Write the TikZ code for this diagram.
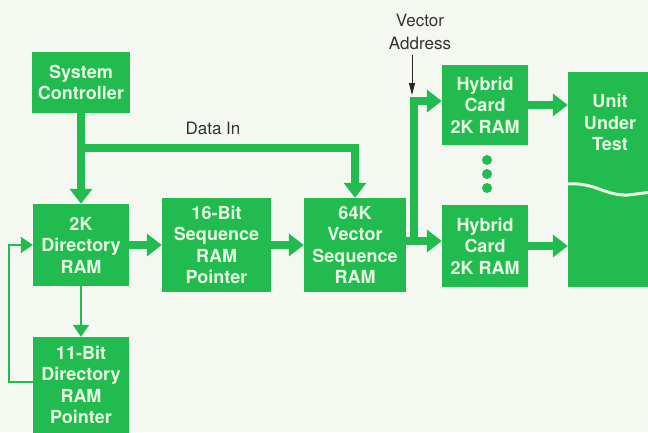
\documentclass[tikz,border=0pt]{standalone}
\usepackage{fontspec}
\setmainfont{TeX Gyre Heros}
\usetikzlibrary{arrows.meta,positioning}
\definecolor{hpgreen}{RGB}{34,187,80}
\definecolor{hppale}{RGB}{232,250,226}
\definecolor{hpbg}{RGB}{244,248,240}
\tikzset{blk/.style={fill=hpgreen,text=hppale,font=\bfseries\fontsize{18}{21.5}\selectfont,align=center,inner sep=0pt},bus/.style={draw=hpgreen,line width=8pt,-{Triangle[width=22pt,length=15pt]}},wire/.style={draw=hpgreen,line width=2pt,-{Triangle[width=16pt,length=12pt]}},lbl/.style={font=\fontsize{17}{23}\selectfont,align=center,text=black!80,inner sep=0pt}}
\begin{document}
\begin{tikzpicture}[x=1pt,y=-1pt]
\fill[hpbg](0,0)rectangle(648,432);\useasboundingbox(0,0)rectangle(648,432);
\node[blk,minimum width=98pt,minimum height=61pt](sc)at(81,82.5){System\\Controller};
\node[blk,minimum width=96pt,minimum height=82pt](dir)at(81,245){2K\\Directory\\RAM};
\node[blk,minimum width=96pt,minimum height=96pt](ptr)at(81,385){11-Bit\\Directory\\RAM\\Pointer};
\node[blk,minimum width=109pt,minimum height=94pt](seq)at(216.5,245){16-Bit\\Sequence\\RAM\\Pointer};
\node[blk,minimum width=102pt,minimum height=94pt](vec)at(355,245){64K\\Vector\\Sequence\\RAM};
\node[blk,minimum width=86pt,minimum height=80pt](hyb1)at(485,105){Hybrid\\Card\\2K RAM};
\node[blk,minimum width=86pt,minimum height=82pt](hyb2)at(485,246){Hybrid\\Card\\2K RAM};
\node[blk,minimum width=92pt,minimum height=215pt](uut)at(614,179.5){};
\node[blk,fill=none,anchor=north](uutt)at(610,94){Unit\\Under\\Test};
\draw[hppale,line width=3pt](uut.west|-0,184)..controls(595,182)and(605,196)..(628,195)..controls(640,194)..(652,192);
\foreach\y in{160,174,188}\fill[hpgreen](487,\y)circle(5pt);
\node[lbl](din)at(213,128){Data In};
\node[lbl](va)at(420,31.5){Vector\\Address};
\coordinate(dj)at(82,148);\coordinate(bus1)at(414,101);\coordinate(bus2)at(414,241);\coordinate(vae)at(412,95);\coordinate(fb)at(9,382);
\draw[bus](sc.south)--(dir.north);
\draw[bus](dj)-|(vec.north);
\draw[bus](dir)--(seq);
\draw[bus](seq)--(vec);
\draw[bus](vec.east|-bus2)--(hyb2.west|-bus2);
\draw[bus](bus2)|-(hyb1.west|-bus1);
\draw[bus](hyb1.east)--(hyb1.east-|uut.west);
\draw[bus](hyb2.east)--(hyb2.east-|uut.west);
\draw[wire](dir.south)--(dir.south|-ptr.north);
\draw[wire](ptr.west|-fb)--(fb)|-(dir.west);
\draw[black!85,line width=1pt,-{Triangle[width=6pt,length=12pt]},shorten <=5pt](va.south-|vae)--(vae);
\end{tikzpicture}
\end{document}
